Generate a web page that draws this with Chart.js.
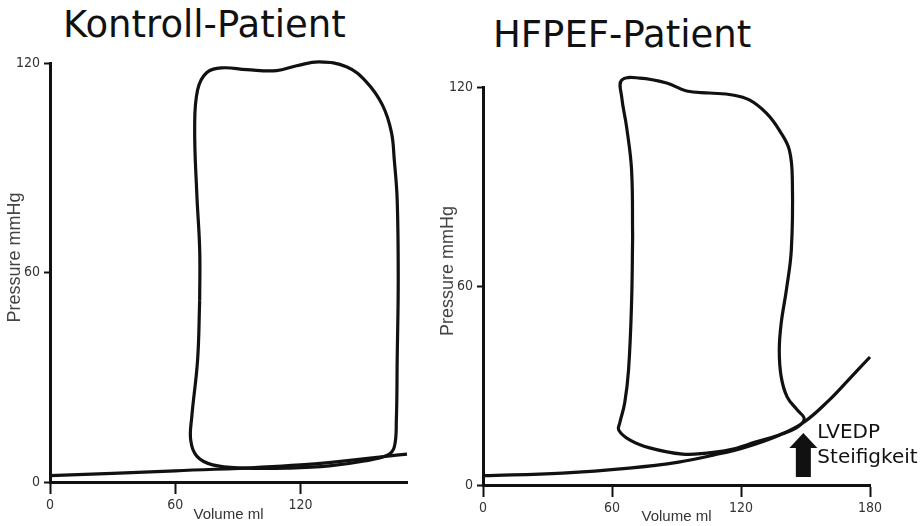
<!DOCTYPE html>
<html>
<head>
<meta charset="utf-8">
<script src="https://cdn.jsdelivr.net/npm/chart.js@4.4.0/dist/chart.umd.min.js"></script>
<style>
  body { margin: 0; background: #fff; width: 922px; height: 526px; position: relative; overflow: hidden; }
  .panel-title { position: absolute; font-family: 'DejaVu Sans', sans-serif; font-size: 37px; line-height: 1; color: #111; white-space: nowrap; }
  canvas { position: absolute; top: 0; }
</style>
</head>
<body>
<div class="panel-title" style="left:63px;top:6px">Kontroll-Patient</div>
<div class="panel-title" style="left:493px;top:16px">HFPEF-Patient</div>
<canvas id="kontroll" width="410" height="526" style="left:0"></canvas>
<canvas id="hfpef" width="492" height="526" style="left:430px"></canvas>
<script>
// axis ticks shared by both panels
const pressureTicks = [0, 60, 120];
const volumeTicks = [0, 60, 120, 180];

// control patient: pressure-volume loop (ml / mmHg), traced anticlockwise from the left wall
const kontrollLoopVolume = [71.7, 70.7, 67.9, 67.4, 70.3, 77.9, 93.2, 114.7, 133.8, 150.6, 161.6, 164.9, 165.9, 166.3,
  166.8, 166.3, 164.9, 163.5, 159.2, 151.5, 142.0, 129.1, 118.1, 108.5, 94.2, 82.2, 75.0, 70.7, 69.3, 70.3, 71.7, 71.7];
const kontrollLoopPressure = [52.1, 35.0, 18.6, 12.0, 7.4, 4.9, 4.0, 4.0, 4.6, 6.0, 7.7, 10.0, 17.8, 35.0,
  57.9, 80.8, 92.3, 100.3, 108.0, 114.6, 118.9, 120.3, 119.2, 117.8, 118.1, 118.6, 117.2, 112.3, 101.7, 82.8, 66.5, 52.1];
// control patient: end-diastolic pressure-volume relation
const kontrollEdpvrVolume = [0, 60, 120, 171];
const kontrollEdpvrPressure = [1.8, 3.2, 4.9, 8.0];

// HFpEF patient: pressure-volume loop
const hfpefLoopVolume = [69.6, 69.1, 67.7, 65.9, 63.6, 63.1, 68.2, 77.5, 92.8, 103.9, 114.6, 127.1, 137.8, 145.7, 149.4,
  146.2, 141.5, 138.7, 137.8, 138.7, 141.1, 143.4, 143.9, 142.5, 137.8, 131.8, 123.9, 116.0, 105.3, 94.7, 85.4, 72.9,
  64.5, 64.5, 66.8, 69.1, 69.6];
const hfpefLoopPressure = [74.8, 54.9, 34.7, 24.7, 18.7, 16.6, 13.6, 11.2, 9.3, 9.6, 10.6, 13.0, 15.1, 17.2, 19.9,
  22.6, 26.5, 32.6, 40.7, 48.8, 58.8, 70.8, 91.0, 101.0, 107.0, 112.1, 116.1, 117.6, 118.2, 118.8, 121.2, 122.7,
  122.1, 117.0, 107.9, 95.0, 74.8];
// HFpEF patient: steeper end-diastolic pressure-volume relation
const hfpefEdpvrVolume = [0, 37, 68, 91, 107, 122.5, 138, 149.4, 161, 170, 180];
const hfpefEdpvrPressure = [2.8, 3.6, 5.1, 6.9, 9.0, 11.5, 15.1, 19.0, 25.6, 31.7, 38.6];

// LVEDP arrow under the end-diastolic point (volume, pressure range)
const arrowVolume = 149;
const arrowBottom = 2.4;
const arrowTop = 15.7;

const INK = '#111';
const TICK_FONT = "'Liberation Sans Narrow', 'DejaVu Sans Condensed', 'Liberation Sans', Arial, sans-serif";
const LABEL_FONT = "'Liberation Sans', Arial, sans-serif";

function toPoints(xs, ys) {
    return xs.map(function (v, i) { return { x: v, y: ys[i] }; });
}

// arrow plus "LVEDP / Steifigkeit" note, placed through the chart scales
const stiffnessMarker = {
    id: 'stiffnessMarker',
    afterDatasetsDraw(chart) {
        const { ctx, scales: { x, y } } = chart;
        const cx = x.getPixelForValue(arrowVolume);
        const tip = y.getPixelForValue(arrowTop);
        const base = y.getPixelForValue(arrowBottom);
        const head = 15;
        ctx.save();
        ctx.fillStyle = INK;
        ctx.beginPath();
        ctx.moveTo(cx, tip);
        ctx.lineTo(cx + 14, tip + head);
        ctx.lineTo(cx + 7.5, tip + head);
        ctx.lineTo(cx + 7.5, base);
        ctx.lineTo(cx - 7.5, base);
        ctx.lineTo(cx - 7.5, tip + head);
        ctx.lineTo(cx - 14, tip + head);
        ctx.closePath();
        ctx.fill();
        ctx.font = "20px 'DejaVu Sans'";
        ctx.textBaseline = 'alphabetic';
        ctx.fillText('LVEDP', cx + 14, tip + 5);
        ctx.fillText('Steifigkeit', cx + 14, tip + 30);
        ctx.restore();
    }
};

/**
 * Draws one PV-loop panel: the loop and the EDPVR curve on linear volume / pressure axes.
 */
function drawPanel(canvasId, p) {
    return new Chart(document.getElementById(canvasId), {
        type: 'scatter',
        data: {
            datasets: [
                { data: toPoints(p.edpvrVolume, p.edpvrPressure) },
                { data: toPoints(p.loopVolume, p.loopPressure) }
            ]
        },
        options: {
            responsive: false,
            animation: false,
            events: [],
            layout: { padding: p.padding },
            datasets: { scatter: { showLine: true, clip: false } },
            elements: {
                point: { radius: 0 },
                line: { borderWidth: 3.2, borderColor: INK, tension: 0.4, capBezierPoints: false, fill: false }
            },
            plugins: { legend: { display: false }, tooltip: { enabled: false }, title: { display: false } },
            scales: {
                x: {
                    type: 'linear',
                    min: 0,
                    max: p.xMax,
                    afterBuildTicks: function (s) { s.ticks = volumeTicks.filter(function (v) { return v <= s.max; }).map(function (v) { return { value: v }; }); },
                    afterFit: function (s) { s.height = p.xAxisHeight; },
                    border: { display: true, color: INK, width: 3 },
                    grid: { display: true, drawOnChartArea: false, drawTicks: true, tickLength: 12, tickWidth: 2, tickColor: INK },
                    ticks: { font: { family: TICK_FONT, size: 14 }, color: '#333', padding: 3, maxRotation: 0 },
                    title: { display: true, text: 'Volume ml', font: { family: LABEL_FONT, size: 15 }, color: '#333', padding: { top: 0, bottom: p.xTitlePad } }
                },
                y: {
                    type: 'linear',
                    min: 0,
                    max: 120,
                    afterBuildTicks: function (s) { s.ticks = pressureTicks.map(function (v) { return { value: v }; }); },
                    afterFit: function (s) { s.width = p.yAxisWidth; },
                    border: { display: true, color: INK, width: 3 },
                    grid: { display: true, drawOnChartArea: false, drawTicks: true, tickLength: 6, tickWidth: 2, tickColor: INK },
                    ticks: { font: { family: TICK_FONT, size: 14 }, color: '#333', padding: 4 },
                    // leading spaces nudge the label a little above the axis middle
                    title: { display: true, text: '      Pressure mmHg', font: { family: LABEL_FONT, size: 18 }, color: '#444', padding: { top: p.yTitlePad, bottom: 0 } }
                }
            }
        },
        plugins: p.plugins || []
    });
}

drawPanel('kontroll', {
    loopVolume: kontrollLoopVolume, loopPressure: kontrollLoopPressure,
    edpvrVolume: kontrollEdpvrVolume, edpvrPressure: kontrollEdpvrPressure,
    xMax: 171, yAxisWidth: 50, xAxisHeight: 44, xTitlePad: 2, yTitlePad: 4,
    padding: { top: 63, right: 3, bottom: 0, left: 0 }
});

drawPanel('hfpef', {
    loopVolume: hfpefLoopVolume, loopPressure: hfpefLoopPressure,
    edpvrVolume: hfpefEdpvrVolume, edpvrPressure: hfpefEdpvrPressure,
    xMax: 180, yAxisWidth: 53, xAxisHeight: 41, xTitlePad: 0, yTitlePad: 7,
    padding: { top: 87, right: 52, bottom: 0, left: 0 },
    plugins: [stiffnessMarker]
});
</script>
</body>
</html>
